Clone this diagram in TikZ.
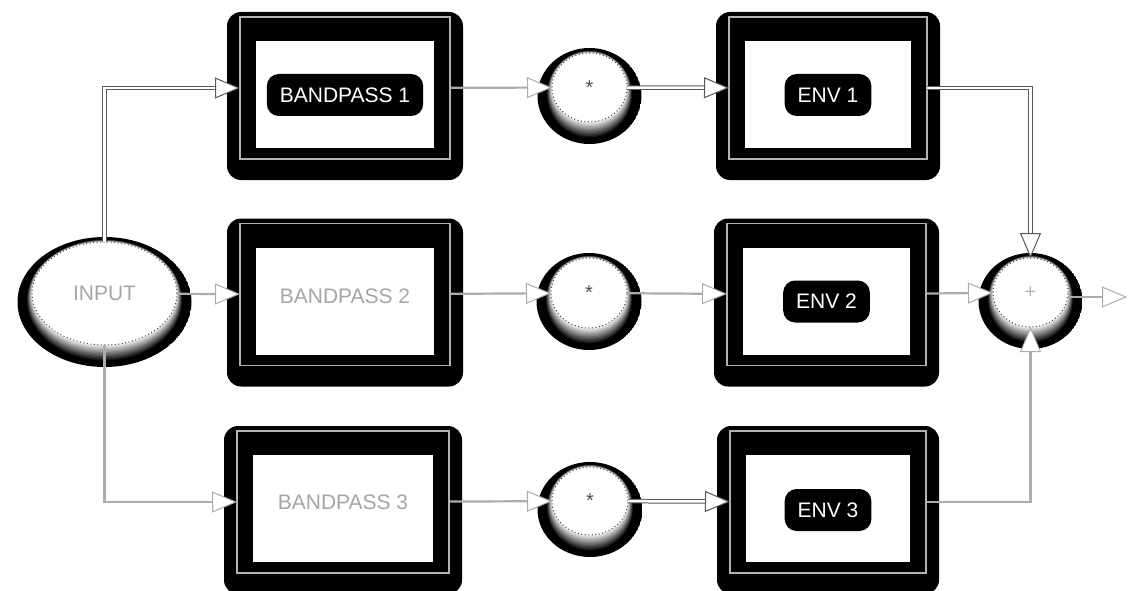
\documentclass[tikz,border=0pt]{standalone}
\usepackage{fontspec}
\setmainfont{Liberation Sans}
\usetikzlibrary{arrows.meta,calc,shapes.geometric}

\tikzset{
  labelfont/.style={font=\fontsize{21}{24}\selectfont},
  frame/.style={draw=none, minimum height=142pt, inner sep=0pt, outer sep=0pt},
  pill/.style={labelfont, fill=black, rounded corners=12pt, text=white,
    minimum height=42pt, inner xsep=13pt, inner ysep=0pt},
  greylabel/.style={labelfont, text=gray!70},
  disc/.style={ellipse, fill=white, draw=black!75, line width=1pt,
    dash pattern=on 1pt off 2.5pt, inner sep=0pt, outer sep=0pt,
    text=black!70, font=\fontsize{20}{20}\selectfont},
  tip/.style={-{Triangle[length=25pt, width=21pt, fill=white, line width=1pt]}},
  wire/.style={tip, draw=gray!65, line width=2.2pt},
  dwire/.style={tip, draw=gray!70!black, line width=1pt, double=white, double distance=2.5pt},
}

% processing block: shadowed black frame, thin grey rectangle, white face
\newcommand\dspblock[4]{%
  \node[frame, minimum width=#4] (#1) at (#2,#3) {};
  \fill[black, rounded corners=14pt]
    ([shift={(-13,-5)}]#1.north west) rectangle ([shift={(13,21)}]#1.south east);
  \draw[gray!60, line width=1.3pt] (#1.north west) rectangle (#1.south east);
  \fill[white]
    ([shift={(16,24)}]#1.north west) rectangle ([shift={(-16,-11)}]#1.south east);
}

% dark ring with a soft halo below a white disc centred at (#1,#2), radii #3,#4
\newcommand\ringback[4]{%
  \begin{scope}
    \clip (#1,#2+8.5) ellipse [x radius=#3+14.5, y radius=#4+13.5];
    \fill[black] (#1,#2+8.5) ellipse [x radius=#3+14.5, y radius=#4+13.5];
    \foreach \i in {12,11,...,1} {
      \pgfmathsetmacro\k{100*\i/12}
      \fill[black!\k] (#1,#2+0.6*\i) ellipse [x radius=#3+0.45*\i, y radius=#4+0.8*\i];
    }
  \end{scope}
}

\begin{document}
\begin{tikzpicture}[x=1pt, y=-1pt]
  \useasboundingbox (0,0) rectangle (1129,591);

  % filter blocks
  \dspblock{bp1}{345}{88}{210pt}
  \node[pill] at ([yshift=-7pt]bp1.center) {BANDPASS 1};
  \dspblock{bp2}{345}{294.5}{210pt}
  \node[greylabel] at ([yshift=-2pt]bp2.center) {BANDPASS 2};
  \dspblock{bp3}{343}{502}{212pt}
  \node[greylabel] at (bp3.center) {BANDPASS 3};

  % envelope blocks
  \dspblock{env1}{828}{88}{198pt}
  \node[pill] at ([yshift=-7pt]env1.center) {ENV 1};
  \dspblock{env2}{826.5}{294.5}{199pt}
  \node[pill] at ([yshift=-7pt]env2.center) {ENV 2};
  \dspblock{env3}{828}{502}{196pt}
  \node[pill] at ([yshift=-8pt]env3.center) {ENV 3};

  % input
  \ringback{104.5}{293.5}{72.5}{51.5}
  \node[disc, minimum width=145pt, minimum height=103pt, labelfont, text=gray!70] (in) at (104.5,293.5) {INPUT};

  % multipliers
  \ringback{589.5}{87.5}{37.5}{34.5}
  \node[disc, minimum width=75pt, minimum height=69pt] (m1) at (589.5,87.5) {*};
  \ringback{589}{293}{38}{35}
  \node[disc, minimum width=76pt, minimum height=70pt] (m2) at (589,293) {*};
  \ringback{590}{501}{38}{34}
  \node[disc, minimum width=76pt, minimum height=68pt] (m3) at (590,501) {*};

  % summing junction
  \ringback{1030.5}{292.5}{37.5}{34.5}
  \node[disc, minimum width=75pt, minimum height=69pt, text=gray!60] (sum) at (1030.5,292.5) {+};
  \coordinate (out) at (1127,297);

  % signal paths
  \draw[dwire] (in.north) |- (bp1.west);
  \draw[wire] (in) -- (bp2);
  \draw[wire] (in.south) |- (bp3.west);

  \draw[wire] (bp1) -- (m1);
  \draw[wire] (bp2) -- (m2);
  \draw[wire] (bp3) -- (m3);

  \draw[dwire] (m1) -- (env1);
  \draw[wire] (m2) -- (env2);
  \draw[dwire] (m3) -- (env3);

  \draw[dwire] (env1.east) -| (sum.north);
  \draw[wire] (env2) -- (sum);
  \draw[wire] (env3.east) -| (sum.south);

  \draw[wire] (sum.east |- out) -- (out);
\end{tikzpicture}
\end{document}
